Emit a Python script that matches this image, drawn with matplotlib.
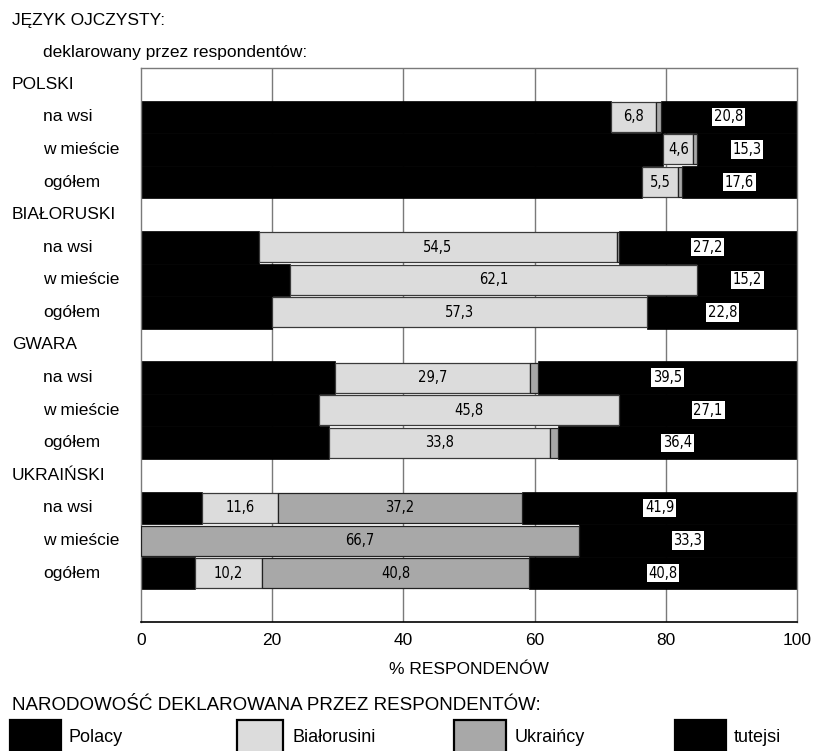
import matplotlib
matplotlib.use("Agg")
import matplotlib.pyplot as plt
from matplotlib.patches import Rectangle
import matplotlib.transforms as mtransforms

# ---------------- data ----------------
groups = ["POLSKI", "BIAŁORUSKI", "GWARA", "UKRAIŃSKI"]
subrows = ["na wsi", "w mieście", "ogółem"]
polacy      = [71.7, 79.6, 76.4, 18.0, 22.7, 19.9, 29.6, 27.1, 28.6, 9.3, 0.0, 8.2]
bialorusini = [6.8, 4.6, 5.5, 54.5, 62.1, 57.3, 29.7, 45.8, 33.8, 11.6, 0.0, 10.2]
ukraincy    = [0.7, 0.5, 0.5, 0.3, 0.0, 0.0, 1.2, 0.0, 1.2, 37.2, 66.7, 40.8]
tutejsi     = [20.8, 15.3, 17.6, 27.2, 15.2, 22.8, 39.5, 27.1, 36.4, 41.9, 33.3, 40.8]
series_names = ["Polacy", "Białorusini", "Ukraińcy", "tutejsi"]
xticks = [0, 20, 40, 60, 80, 100]

title_top = "JĘZYK OJCZYSTY:"
subtitle_top = "deklarowany przez respondentów:"
xlabel = "% RESPONDENÓW"
legend_title = "NARODOWOŚĆ DEKLAROWANA PRZEZ RESPONDENTÓW:"

C_POL = "#000000"
C_BIA = "#dcdcdc"
C_UKR = "#a8a8a8"
C_TUT = "#000000"

plt.rcParams["font.family"] = ["Liberation Sans", "DejaVu Sans"]
FS = 12.5
FS_LEG = 13
FS_LEGT = 13.5
W, H = 818, 751

def fx(px):
    return px / W

def fy(py):
    return 1 - py / H

fig = plt.figure(figsize=(W / 100, H / 100), dpi=100)
ax = fig.add_axes([fx(141), fy(622), (797 - 141) / W, (622 - 68) / H])

# row positions: header rows + data rows + one empty row at bottom
ypos = []
label_rows = []
r = 0
for g in groups:
    label_rows.append((r, g, True))
    r += 1
    for s in subrows:
        label_rows.append((r, s, False))
        ypos.append(r)
        r += 1
nrows = r + 1

ax.set_xlim(0, 100)
ax.set_ylim(nrows - 0.5, -0.5)

for x in xticks[1:-1]:
    ax.axvline(x, color="#7a7a7a", lw=1.0, zorder=0)

lab_font = dict(family=["DejaVu Sans"], fontstretch="condensed", fontsize=10.5)

for i, y in enumerate(ypos):
    p, b, u, t = polacy[i], bialorusini[i], ukraincy[i], tutejsi[i]
    if p > 0:
        ax.barh(y, p, left=0, height=1.0, color=C_POL, edgecolor=C_POL, lw=0.5, zorder=2)
    ax.barh(y, t, left=p + b + u, height=1.0, color=C_TUT, edgecolor=C_TUT, lw=0.5, zorder=2)
    if b > 0:
        ax.barh(y, b, left=p, height=0.92, color=C_BIA, edgecolor="#3a3a3a", lw=0.9, zorder=3)
    if u > 0:
        ax.barh(y, u, left=p + b, height=0.92, color=C_UKR, edgecolor="#222222", lw=0.9, zorder=3)
    if b >= 2:
        ax.text(p + b / 2, y, f"{b:.1f}".replace(".", ","), ha="center", va="center",
                color="black", zorder=5, **lab_font)
    if u >= 2:
        ax.text(p + b + u / 2, y, f"{u:.1f}".replace(".", ","), ha="center", va="center",
                color="black", zorder=5, **lab_font)
    ax.text(p + b + u + t / 2, y, f"{t:.1f}".replace(".", ","), ha="center", va="center",
            color="black", zorder=5,
            bbox=dict(boxstyle="square,pad=0.12", fc="white", ec="none"), **lab_font)

ax.set_yticks([])
ax.set_xticks(xticks)
ax.set_xticklabels([str(v) for v in xticks], fontsize=FS)
ax.tick_params(axis="x", length=0, pad=8)
for side in ["top", "left", "right"]:
    ax.spines[side].set_color("#7a7a7a")
    ax.spines[side].set_linewidth(1.0)
ax.spines["bottom"].set_color("black")
ax.spines["bottom"].set_linewidth(1.2)

# row labels
trans = mtransforms.blended_transform_factory(fig.transFigure, ax.transData)
for row, text, is_header in label_rows:
    ax.text(fx(12) if is_header else fx(43), row, text, transform=trans,
            ha="left", va="center", fontsize=FS)

fig.text(fx(12), fy(20), title_top, ha="left", va="center", fontsize=FS)
fig.text(fx(43), fy(52), subtitle_top, ha="left", va="center", fontsize=FS)
fig.text(fx(469), fy(669), xlabel, ha="center", va="center", fontsize=FS)
fig.text(fx(12), fy(705), legend_title, ha="left", va="center", fontsize=FS_LEGT)

# legend
leg_colors = [C_POL, C_BIA, C_UKR, C_TUT]
box_x = [10, 237, 454, 675]
box_w = [51, 46, 52, 51]
txt_x = [69, 292, 515, 734]
for name, col, bx, bw, tx in zip(series_names, leg_colors, box_x, box_w, txt_x):
    fig.add_artist(Rectangle((fx(bx), fy(760)), bw / W, 40 / H, transform=fig.transFigure,
                             facecolor=col, edgecolor="black", lw=1.6, clip_on=False))
    fig.text(fx(tx), fy(737), name, ha="left", va="center", fontsize=FS_LEG)

fig.savefig("out.png", dpi=100)
